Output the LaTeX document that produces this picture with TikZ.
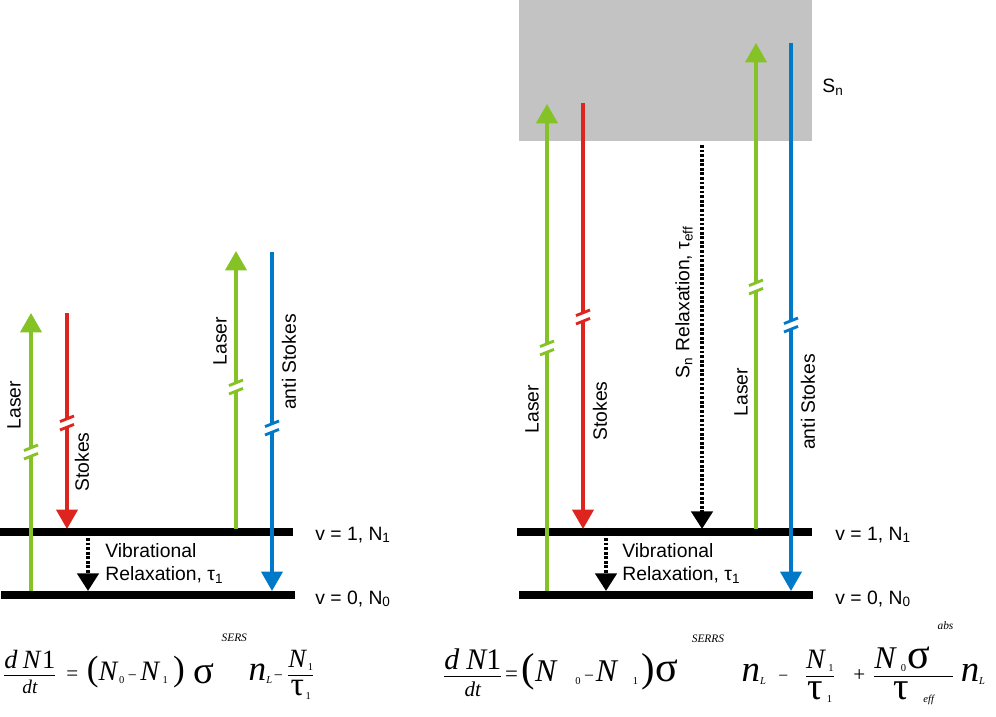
\documentclass[tikz,border=0pt]{standalone}
\usepackage{amsmath}
\usepackage{fontspec}
\setmainfont{Liberation Sans}
\newfontfamily\eqfont{Liberation Serif}
\usetikzlibrary{arrows.meta}
\definecolor{lasergreen}{RGB}{132,194,37}
\definecolor{stokesred}{RGB}{221,36,30}
\definecolor{asblue}{RGB}{0,122,200}
\definecolor{snbox}{RGB}{195,195,195}
\newcommand{\efrac}[2]{$\genfrac{}{}{0.8pt}{0}{\hbox{#1}}{\hbox{#2}}$}
\newcommand{\esub}[1]{\raisebox{-2pt}{\fontsize{6}{6}\selectfont #1}}
\newcommand{\esup}[1]{\raisebox{22pt}{\fontsize{6.5}{6.5}\selectfont\itshape #1}}
% break mark on a beam: x, y, colour
\newcommand{\brk}[3]{%
  \draw[white,line width=3.6pt] (#1-9,#2+3.6) -- (#1+9,#2-3.6);
  \draw[#3,line width=1.6pt] (#1-7,#2+7) -- (#1+7,#2+1.4);
  \draw[#3,line width=1.6pt] (#1-7,#2-1.4) -- (#1+7,#2-7);}
\tikzset{x=0.02cm, y=-0.02cm,
  level/.style={black,line width=4.6pt},
  beam/.style={line width=2pt,-{Triangle[length=11pt,width=12pt]}},
  relax/.style={black,line width=2.3pt,dash pattern=on 1.6pt off 1pt,-{Triangle[length=10pt,width=12pt]}},
  lbl/.style={font=\fontsize{11}{13}\selectfont,inner sep=0pt},
  vlbl/.style={lbl,rotate=90},
  eqn/.style={inner sep=0pt,font=\eqfont}}

\begin{document}
\begin{tikzpicture}
  \useasboundingbox (0,0) rectangle (996,716);
  % SERS
  \draw[level] (0,532) -- (293,532);
  \draw[level] (1,595) -- (295,595);
  \draw[beam,lasergreen] (31,591) -- (31,313);
  \draw[beam,stokesred] (67,313) -- (67,529);
  \draw[beam,lasergreen] (236,529) -- (236,251);
  \draw[beam,asblue] (272,252) -- (272,591);
  \draw[relax] (88,538) -- (88,591);
  \brk{31}{452}{lasergreen}
  \brk{67}{423}{stokesred}
  \brk{236}{387}{lasergreen}
  \brk{272}{428}{asblue}
  \node[vlbl] (laserA) at (14,405) {Laser};
  \node[vlbl] (stokesA) at (82,462) {Stokes};
  \node[vlbl] (laserB) at (220,341) {Laser};
  \node[vlbl] (antiA) at (289,362) {anti Stokes};
  \node[lbl,anchor=west] (vibA) at (105,551) {Vibrational};
  \node[lbl,anchor=west] (relA) at (105,575) {Relaxation, τ\textsubscript{1}};
  \node[lbl,anchor=base west] (vA) at (315,540) {v = 1, N\textsubscript{1}};
  \node[lbl,anchor=base west] (vB) at (315,604) {v = 0, N\textsubscript{0}};
  % SERRS
  \fill[snbox] (519,0) rectangle (812,141);
  \draw[level] (517,532) -- (812,532);
  \draw[level] (519,595) -- (813,595);
  \draw[beam,lasergreen] (547,591) -- (547,104);
  \draw[beam,stokesred] (583,103) -- (583,529);
  \draw[relax] (702,145) -- (702,529);
  \draw[beam,lasergreen] (756,529) -- (756,43);
  \draw[beam,asblue] (791,43) -- (791,591);
  \draw[relax] (606,538) -- (606,591);
  \brk{547}{348}{lasergreen}
  \brk{583}{317}{stokesred}
  \brk{756}{287}{lasergreen}
  \brk{791}{325}{asblue}
  \node[vlbl] (laserC) at (532,409) {Laser};
  \node[vlbl] (stokesB) at (600,411) {Stokes};
  \node[vlbl] (snrel) at (684,302) {S\textsubscript{n} Relaxation, τ\textsubscript{eff}};
  \node[vlbl] (laserD) at (741,392) {Laser};
  \node[vlbl] (antiB) at (808,402) {anti Stokes};
  \node[lbl,anchor=west] (vibB) at (622,551) {Vibrational};
  \node[lbl,anchor=west] (relB) at (622,575) {Relaxation, τ\textsubscript{1}};
  \node[lbl,anchor=base west] (vC) at (835,540) {v = 1, N\textsubscript{1}};
  \node[lbl,anchor=base west] (vD) at (835,604) {v = 0, N\textsubscript{0}};
  \node[lbl,anchor=base west] (sn) at (822,93) {S\textsubscript{n}};
  % rate equations
  \node[eqn,anchor=base west] (eqsers) at (2,680) {%
    \efrac{\fontsize{15}{15}\selectfont\itshape d\kern3pt N\kern1pt\upshape1}{\fontsize{11}{11}\selectfont\itshape dt}%
    \kern5pt{\fontsize{12}{12}\selectfont=}\kern5pt
    {\fontsize{20}{20}\selectfont(}{\fontsize{16}{16}\selectfont\itshape N}\kern1pt\esub{0}\kern2pt{\fontsize{9}{9}\selectfont−}\kern2pt
    {\fontsize{16}{16}\selectfont\itshape N}\kern2pt\esub{1}\kern3pt{\fontsize{20}{20}\selectfont)}\kern5pt
    \raisebox{-2pt}{\fontsize{22}{22}\selectfont σ}\kern4pt\esup{SERS}\kern1pt
    {\fontsize{20}{20}\selectfont\itshape n}\esub{\itshape L}\kern1pt{\fontsize{9}{9}\selectfont−}\kern2pt
    \efrac{{\fontsize{15}{15}\selectfont\itshape N}\kern1pt\esub{1}}{{\fontsize{19}{19}\selectfont τ}\kern1pt\esub{1}}};
  \node[eqn,anchor=base west] (eqserrs) at (442,681) {%
    \efrac{\fontsize{17}{17}\selectfont\itshape d\kern4pt N\upshape1}{\fontsize{12}{12}\selectfont\itshape dt}%
    \kern1pt{\fontsize{13}{13}\selectfont=}\kern2pt
    {\fontsize{23}{23}\selectfont(}{\fontsize{18}{18}\selectfont\itshape N}\kern11pt\esub{0}\kern2pt{\fontsize{10}{10}\selectfont−}\kern1pt
    {\fontsize{18}{18}\selectfont\itshape N}\kern9pt\esub{1}\kern2pt{\fontsize{23}{23}\selectfont)}%
    {\fontsize{24}{24}\selectfont σ}\kern8pt\esup{SERRS}\kern10pt
    {\fontsize{21}{21}\selectfont\itshape n}\esub{\itshape L}\kern7pt{\fontsize{10}{10}\selectfont−}\kern9pt
    \efrac{{\fontsize{16}{16}\selectfont\itshape N}\kern2pt\esub{1}}{{\fontsize{22}{22}\selectfont τ}\kern2pt\esub{1}}%
    \kern10pt{\fontsize{12}{12}\selectfont+}\kern4pt
    \efrac{{\fontsize{18}{18}\selectfont\itshape N}\kern3pt\esub{0}\kern1pt{\fontsize{24}{24}\selectfont σ}\kern4pt\esup{abs}}{{\fontsize{22}{22}\selectfont τ}\kern8pt\esub{\itshape eff}}%
    \kern3pt{\fontsize{21}{21}\selectfont\itshape n}\esub{\itshape L}};
\end{tikzpicture}
\end{document}
